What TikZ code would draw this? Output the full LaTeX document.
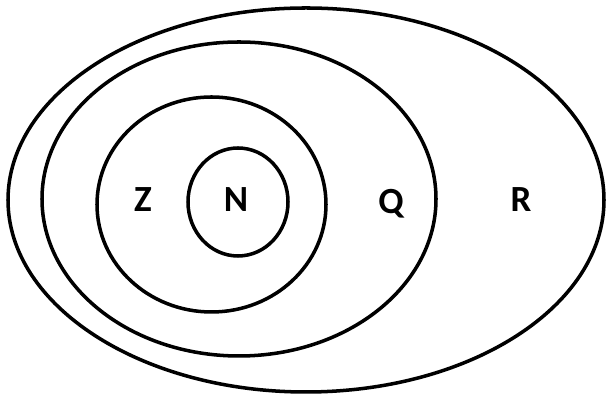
\documentclass[tikz,border=0pt]{standalone}
\usepackage{fontspec}
\setmainfont{Carlito}
\usetikzlibrary{positioning}
\tikzset{
  setline/.style={draw=black, line width=2pt},
  setlbl/.style={font=\fontsize{21}{21}\selectfont\bfseries, inner sep=0pt}
}
\begin{document}
\begin{tikzpicture}
  \useasboundingbox (0,0) rectangle (12.12,7.92);
  % nested sets
  \draw[setline] (6.12,3.92) ellipse [x radius=5.96, y radius=3.84];
  \draw[setline] (4.78,3.94) ellipse [x radius=3.94, y radius=3.14];
  \draw[setline] (4.23,3.83) ellipse [x radius=2.29, y radius=2.15];
  \draw[setline] (4.76,3.88) ellipse [x radius=1.00, y radius=1.08];
  % labels
  \node[setlbl] (labZ) at (2.86,3.92) {Z};
  \node[setlbl] (labN) at (4.72,3.92) {N};
  \node[setlbl] (labQ) at (7.82,3.84) {Q};
  \node[setlbl] (labR) at (10.42,3.92) {R};
\end{tikzpicture}
\end{document}
